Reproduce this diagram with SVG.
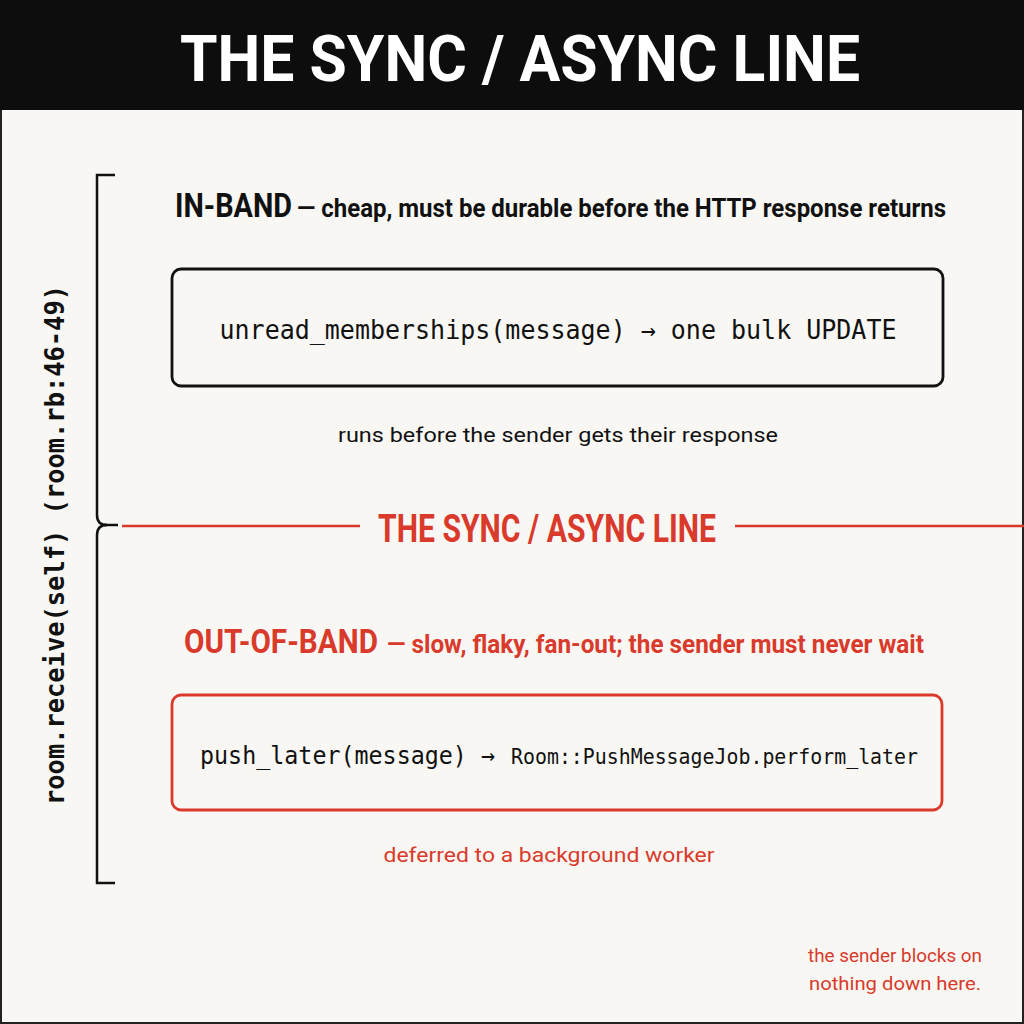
<svg xmlns="http://www.w3.org/2000/svg" width="1024" height="1024" viewBox="0 0 1024 1024">
<style>
.cond{font-family:"Liberation Sans Narrow","Roboto","Liberation Sans",sans-serif;font-weight:700}
.sans{font-family:"Roboto","Liberation Sans",sans-serif}
.mono{font-family:"DejaVu Sans Mono","Liberation Mono",monospace}
.red{fill:#d93a2b}
.blk{fill:#111}
</style>
<rect x="0" y="0" width="1024" height="1024" fill="#f8f7f3"/>
<rect x="1" y="1" width="1022" height="1022" fill="none" stroke="#222" stroke-width="2"/>
<rect x="0" y="0" width="1024" height="110" fill="#0d0d0d"/>
<text class="cond" x="520" y="81" font-size="65" fill="#fff" text-anchor="middle" textLength="680" lengthAdjust="spacingAndGlyphs">THE SYNC / ASYNC LINE</text>

<g id="scope-bracket">
<path d="M115,175 H97 V515 Q97,525 107,525 Q97,525 97,535 V883 H115" fill="none" stroke="#111" stroke-width="2.5"/>
<path d="M104,525 H118" fill="none" stroke="#111" stroke-width="2.5"/>
<text class="mono blk" transform="translate(64,545) rotate(-90)" font-size="26" font-weight="700" text-anchor="middle" textLength="520" lengthAdjust="spacingAndGlyphs">room.receive(self)  (room.rb:46-49)</text>
</g>

<g id="in-band">
<text class="cond blk" x="175" y="217" font-size="33" textLength="117" lengthAdjust="spacingAndGlyphs">IN-BAND</text>
<text class="cond blk" x="297" y="217" font-size="26" textLength="649" lengthAdjust="spacingAndGlyphs">— cheap, must be durable before the HTTP response returns</text>
<rect x="172" y="269" width="771" height="117" rx="9" fill="none" stroke="#111" stroke-width="2.8"/>
<text class="mono blk" x="558" y="339" font-size="26" text-anchor="middle" textLength="677" lengthAdjust="spacingAndGlyphs">unread_memberships(message) → one bulk UPDATE</text>
<text class="sans blk" x="558" y="442" font-size="21" text-anchor="middle" textLength="440" lengthAdjust="spacingAndGlyphs">runs before the sender gets their response</text>
</g>

<g id="connectors">
<line x1="122" y1="526" x2="360" y2="526" stroke="#d93a2b" stroke-width="2.5"/>
<line x1="735" y1="526" x2="1024" y2="526" stroke="#d93a2b" stroke-width="2.5"/>
</g>
<g id="sync-line">
<text class="cond red" x="547" y="542" font-size="38" text-anchor="middle" textLength="338" lengthAdjust="spacingAndGlyphs">THE SYNC / ASYNC LINE</text>
</g>

<g id="out-of-band">
<text class="cond red" x="184" y="653" font-size="33" textLength="194" lengthAdjust="spacingAndGlyphs">OUT-OF-BAND</text>
<text class="cond red" x="387" y="653" font-size="26" textLength="537" lengthAdjust="spacingAndGlyphs">— slow, flaky, fan-out; the sender must never wait</text>
<rect x="172" y="695" width="770" height="115" rx="9" fill="none" stroke="#d93a2b" stroke-width="2.8"/>
<text class="mono blk" x="200" y="764" font-size="25" textLength="295" lengthAdjust="spacingAndGlyphs">push_later(message) →</text>
<text class="mono blk" x="511" y="764" font-size="22" textLength="407" lengthAdjust="spacingAndGlyphs">Room::PushMessageJob.perform_later</text>
<text class="sans red" x="549" y="862" font-size="21" text-anchor="middle" textLength="331" lengthAdjust="spacingAndGlyphs">deferred to a background worker</text>
</g>

<g id="note">
<text class="sans red" x="895" y="962" font-size="19" text-anchor="middle" textLength="174" lengthAdjust="spacingAndGlyphs">the sender blocks on</text>
<text class="sans red" x="895" y="990" font-size="19" text-anchor="middle" textLength="172" lengthAdjust="spacingAndGlyphs">nothing down here.</text>
</g>
</svg>
